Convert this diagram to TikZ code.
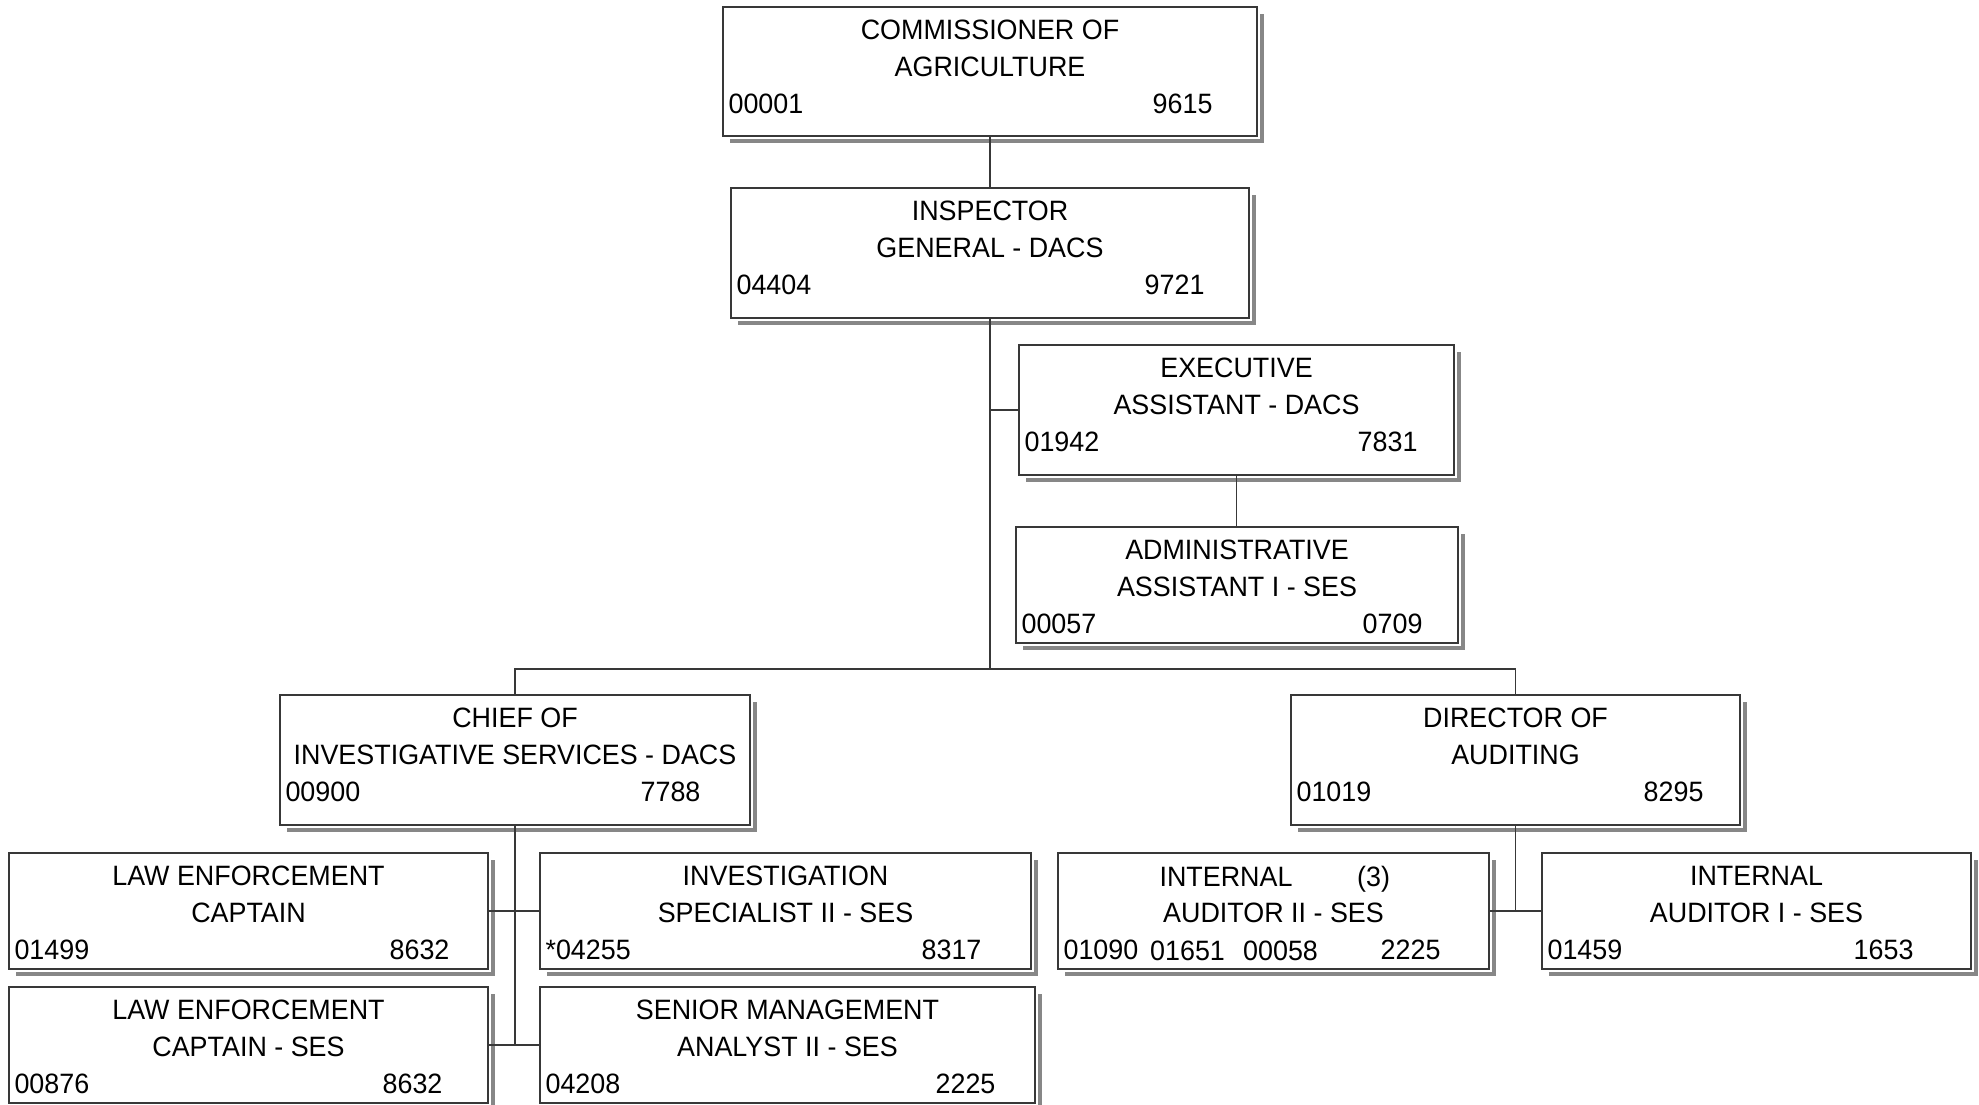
\documentclass[tikz,border=0pt]{standalone}
\usepackage{fontspec}
\setmainfont{Liberation Sans}[FakeStretch=0.96]
\usetikzlibrary{fit}

\tikzset{
  box/.style={draw=black!78, line width=1.3pt, fill=white, inner sep=0pt, rectangle},
  shade line/.style={draw=black!47, line width=4.5pt},
  link/.style={draw=black!78, line width=1.3pt},
  txt/.style={inner sep=0pt, anchor=base, font=\fontsize{28pt}{38pt}\selectfont},
}

% name, top-left, bottom-right, title line 1, title line 2, position number,
% gap of class code from right border, class code
\newcommand\orgbox[8]{%
  \node[box, fit={(#2) (#3)}] (#1) {};
  \draw[shade line] ([xshift=8pt,yshift=-4.5pt]#1.south west)
    -- ([xshift=4.5pt,yshift=-4.5pt]#1.south east)
    -- ([xshift=4.5pt,yshift=-8pt]#1.north east);
  \node[txt] (#1-a) at ([yshift=-33pt]#1.north) {#4};
  \node[txt] (#1-b) at ([yshift=-70.5pt]#1.north) {#5};
  \node[txt, anchor=base west] (#1-c) at ([xshift=6pt,yshift=-107.5pt]#1.north west) {#6};
  \node[txt, anchor=base east] (#1-d) at ([xshift=-#7pt,yshift=-107.5pt]#1.north east) {#8};
}

\begin{document}
\begin{tikzpicture}[x=1pt, y=-1pt]
\useasboundingbox[fill=white] (0,0) rectangle (1979,1105);

\orgbox{comm}{723,7}{1257,136}{COMMISSIONER OF}{AGRICULTURE}{00001}{45}{9615}
\orgbox{insp}{731,188}{1249,318}{INSPECTOR}{GENERAL - DACS}{04404}{45}{9721}
\orgbox{exec}{1019,345}{1454,475}{EXECUTIVE}{ASSISTANT - DACS}{01942}{37}{7831}
\orgbox{admin}{1016,527}{1458,643}{ADMINISTRATIVE}{ASSISTANT I - SES}{00057}{36}{0709}
\orgbox{chief}{280,695}{750,825}{CHIEF OF}{INVESTIGATIVE SERVICES - DACS}{00900}{50}{7788}
\orgbox{dir}{1291,695}{1740,825}{DIRECTOR OF}{AUDITING}{01019}{37}{8295}
\orgbox{leA}{9,853}{488,969}{LAW ENFORCEMENT}{CAPTAIN}{01499}{39}{8632}
\orgbox{inv}{540,853}{1031,969}{INVESTIGATION}{SPECIALIST II - SES}{*04255}{50}{8317}
\orgbox{leB}{9,987}{488,1103}{LAW ENFORCEMENT}{CAPTAIN - SES}{00876}{46}{8632}
\orgbox{sma}{540,987}{1035,1103}{SENIOR MANAGEMENT}{ANALYST II - SES}{04208}{40}{2225}
\orgbox{iaB}{1058,853}{1489,969}{}{AUDITOR II - SES}{01090}{49}{2225}
\orgbox{iaA}{1542,853}{1971,969}{INTERNAL}{AUDITOR I - SES}{01459}{58}{1653}

% further texts of the Internal Auditor II box
\node[txt] (iaB-t) at (1226,886) {INTERNAL};
\node[txt, anchor=base west] (iaB-n) at (1357,886) {(3)};
\node[txt, anchor=base west] (iaB-p2) at (1150,960.5) {01651};
\node[txt, anchor=base west] (iaB-p3) at (1243,960.5) {00058};

% connectors
\coordinate (hub) at (990,669);
\draw[link] (comm.south) -- (insp.north);
\draw[link] (insp.south) -- (hub);
\draw[link] (exec.west) -- (exec.west -| hub);
\draw[link] (exec.south) -- (exec.south |- admin.north);
\draw[link] (chief.north) -- (chief.north |- hub) -- (dir.north |- hub) -- (dir.north);
\draw[link] (chief.south) -- (chief.south |- leB.east);
\draw[link] (leA.east) -- (inv.west);
\draw[link] (leB.east) -- (sma.west);
\draw[link] (dir.south) -- (dir.south |- iaB.east);
\draw[link] (iaB.east) -- (iaA.west);
\end{tikzpicture}
\end{document}
